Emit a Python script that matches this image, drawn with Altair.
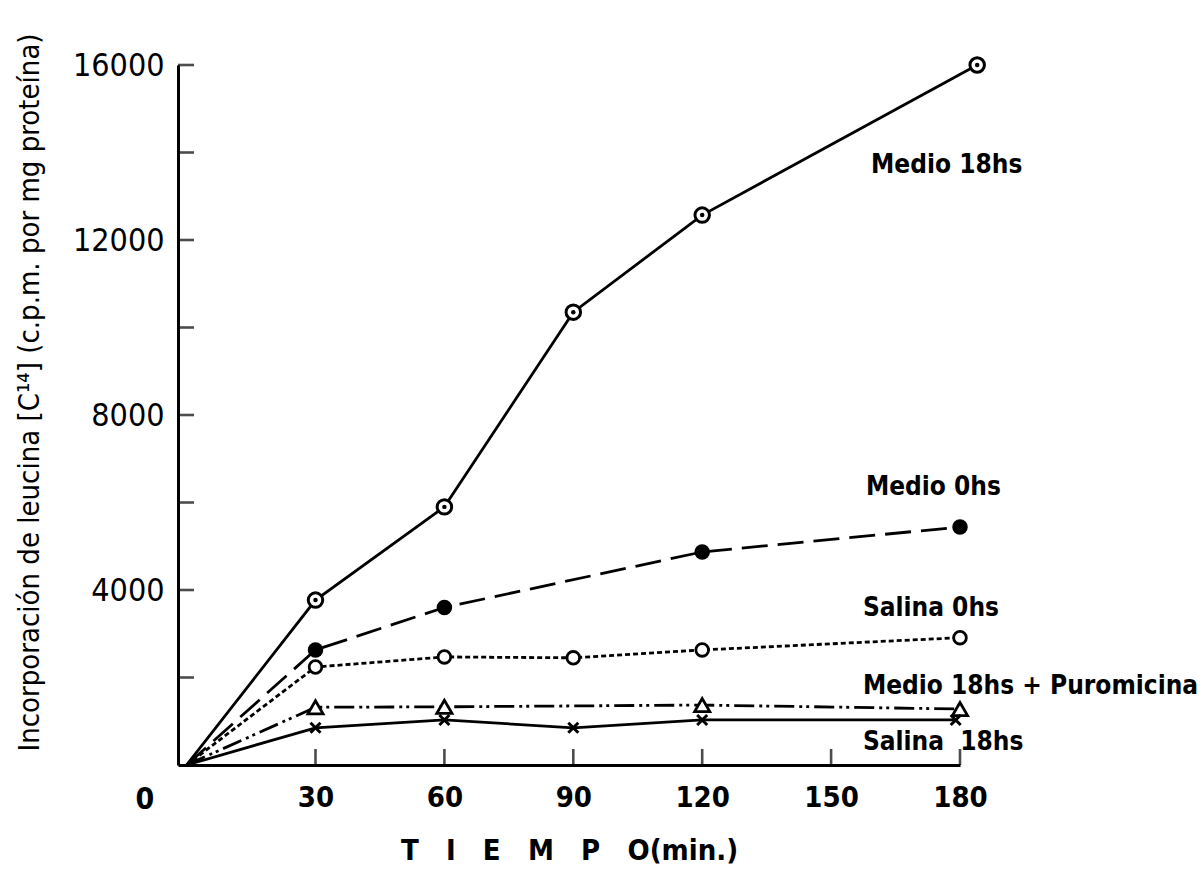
import altair as alt
import pandas as pd

FONT = "DejaVu Sans Condensed"
NB = "\u00a0"

# ---- data ----
medio18_t = [0, 30, 60, 90, 120, 184]
medio18_v = [0, 3770, 5900, 10350, 12570, 16000]

medio0_t = [0, 30, 60, 120, 180]
medio0_v = [0, 2630, 3600, 4870, 5440]

salina0_t = [0, 30, 60, 90, 120, 180]
salina0_v = [0, 2240, 2470, 2450, 2630, 2910]

puro_t = [0, 30, 60, 120, 180]
puro_v = [0, 1320, 1330, 1370, 1280]

salina18_t = [0, 30, 60, 90, 120, 179]
salina18_v = [0, 850, 1030, 850, 1030, 1030]

x_tick_labels = [30, 60, 90, 120, 150, 180]
x_ticks = [30, 60, 90, 120, 150, 180]
y_tick_labels = [4000, 8000, 12000, 16000]
y_ticks = [2000, 4000, 6000, 8000, 10000, 12000, 14000, 16000]

label_text = ["Medio 18hs", "Medio 0hs", "Salina 0hs", "Medio 18hs + Puromicina",
              "Salina" + NB + NB + "18hs"]
label_t = [159.3, 158.1, 157.4, 157.4, 157.4]
label_v = [13714, 6354, 3589, 1806, 526]

x_title = (NB * 3).join(list("TIEMPO")) + "(min.)"
y_title = "Incorporación de leucina [C¹⁴] (c.p.m. por mg proteína)"

W, H = 782, 700
xs = alt.Scale(domain=[-2, 180], nice=False, zero=False)
ys = alt.Scale(domain=[0, 16000], nice=False, zero=True)
LW = 2.8


def df(t, v):
    return pd.DataFrame({"t": t, "v": v})


def line(t, v, dash=None):
    kw = dict(color="black", strokeWidth=LW)
    if dash:
        kw["strokeDash"] = dash
    return alt.Chart(df(t, v)).mark_line(**kw).encode(
        x=alt.X("t:Q", scale=xs), y=alt.Y("v:Q", scale=ys)
    )


def pts(t, v, **kw):
    d = df(t, v).iloc[1:]
    return alt.Chart(d).mark_point(**kw).encode(
        x=alt.X("t:Q", scale=xs), y=alt.Y("v:Q", scale=ys)
    )


layers = []

# Medio 18hs: solid line, circle with central dot
layers.append(line(medio18_t, medio18_v))
layers.append(pts(medio18_t, medio18_v, shape="circle", size=210, filled=True,
                  fill="white", stroke="black", strokeWidth=3, opacity=1))
layers.append(pts(medio18_t, medio18_v, shape="circle", size=20, filled=True,
                  fill="black", opacity=1))

# Medio 0hs: long dashes, filled circle
layers.append(line(medio0_t, medio0_v, [26, 10]))
layers.append(pts(medio0_t, medio0_v, shape="circle", size=240, filled=True,
                  fill="black", opacity=1))

# Salina 0hs: short dashes, open circle
layers.append(line(salina0_t, salina0_v, [5, 3]))
layers.append(pts(salina0_t, salina0_v, shape="circle", size=160, filled=True,
                  fill="white", stroke="black", strokeWidth=2.8, opacity=1))

# Medio 18hs + Puromicina: dash-dot-dot, open triangle
layers.append(line(puro_t, puro_v, [20, 5, 3, 4, 3, 5]))
layers.append(pts(puro_t, puro_v, shape="triangle-up", size=230, filled=True,
                  fill="white", stroke="black", strokeWidth=2.8, opacity=1))

# Salina 18hs: solid line, x markers
layers.append(line(salina18_t, salina18_v))
layers.append(pts(salina18_t, salina18_v, shape="M-1,-1L1,1M1,-1L-1,1", size=100,
                  filled=False, stroke="black", strokeWidth=3, opacity=1))

# inward ticks
layers.append(
    alt.Chart(pd.DataFrame({"t": x_ticks})).transform_calculate(z="0").mark_tick(
        orient="vertical", color="black", size=16, thickness=2.6, yOffset=-8
    ).encode(x=alt.X("t:Q", scale=xs), y=alt.Y("z:Q", scale=ys))
)
layers.append(
    alt.Chart(pd.DataFrame({"v": y_ticks})).transform_calculate(z="-2").mark_tick(
        orient="horizontal", color="black", size=16, thickness=2.6, xOffset=8
    ).encode(y=alt.Y("v:Q", scale=ys), x=alt.X("z:Q", scale=xs))
)

# origin "0" label
layers.append(
    alt.Chart(pd.DataFrame({"t": [-2], "v": [0]})).mark_text(
        text="0", font=FONT, fontSize=30, fontWeight="bold", color="black", dx=-33, dy=35,
    ).encode(x=alt.X("t:Q", scale=xs), y=alt.Y("v:Q", scale=ys))
)

# series labels
layers.append(
    alt.Chart(pd.DataFrame({"t": label_t, "v": label_v, "s": label_text})).mark_text(
        font=FONT, fontSize=26, fontWeight="bold", color="black", align="left",
        baseline="middle"
    ).encode(x=alt.X("t:Q", scale=xs), y=alt.Y("v:Q", scale=ys), text="s:N")
)

base = alt.layer(*layers).encode(
    x=alt.X("t:Q", scale=xs, axis=alt.Axis(
        values=x_tick_labels, title=x_title, ticks=False, grid=False,
        domainColor="black", domainWidth=3, labelFont=FONT, labelFontSize=29,
        labelFontWeight="bold", format="d",
        labelColor="black", labelPadding=18, titleFont=FONT, titleFontSize=29,
        titleFontWeight="bold", titleColor="black", titlePadding=24, labelFlush=False)),
    y=alt.Y("v:Q", scale=ys, axis=alt.Axis(
        values=y_tick_labels, title=y_title,
        ticks=False, grid=False, domainColor="black", domainWidth=3, labelFont=FONT,
        labelFontSize=32, labelColor="black", labelPadding=14, format="d",
        titleFont=FONT, titleFontSize=29, titleFontWeight="normal", titleColor="black",
        titlePadding=28, titleY=327, labelFlush=False)),
)

chart = base.properties(
    width=W, height=H,
    padding={"left": 178, "top": 65, "right": 243, "bottom": 107},
    autosize=alt.AutoSizeParams(type="none"),
    background="white",
).configure_view(stroke=None)

chart.save("out.html", embed_options={"renderer": "svg", "actions": False})
